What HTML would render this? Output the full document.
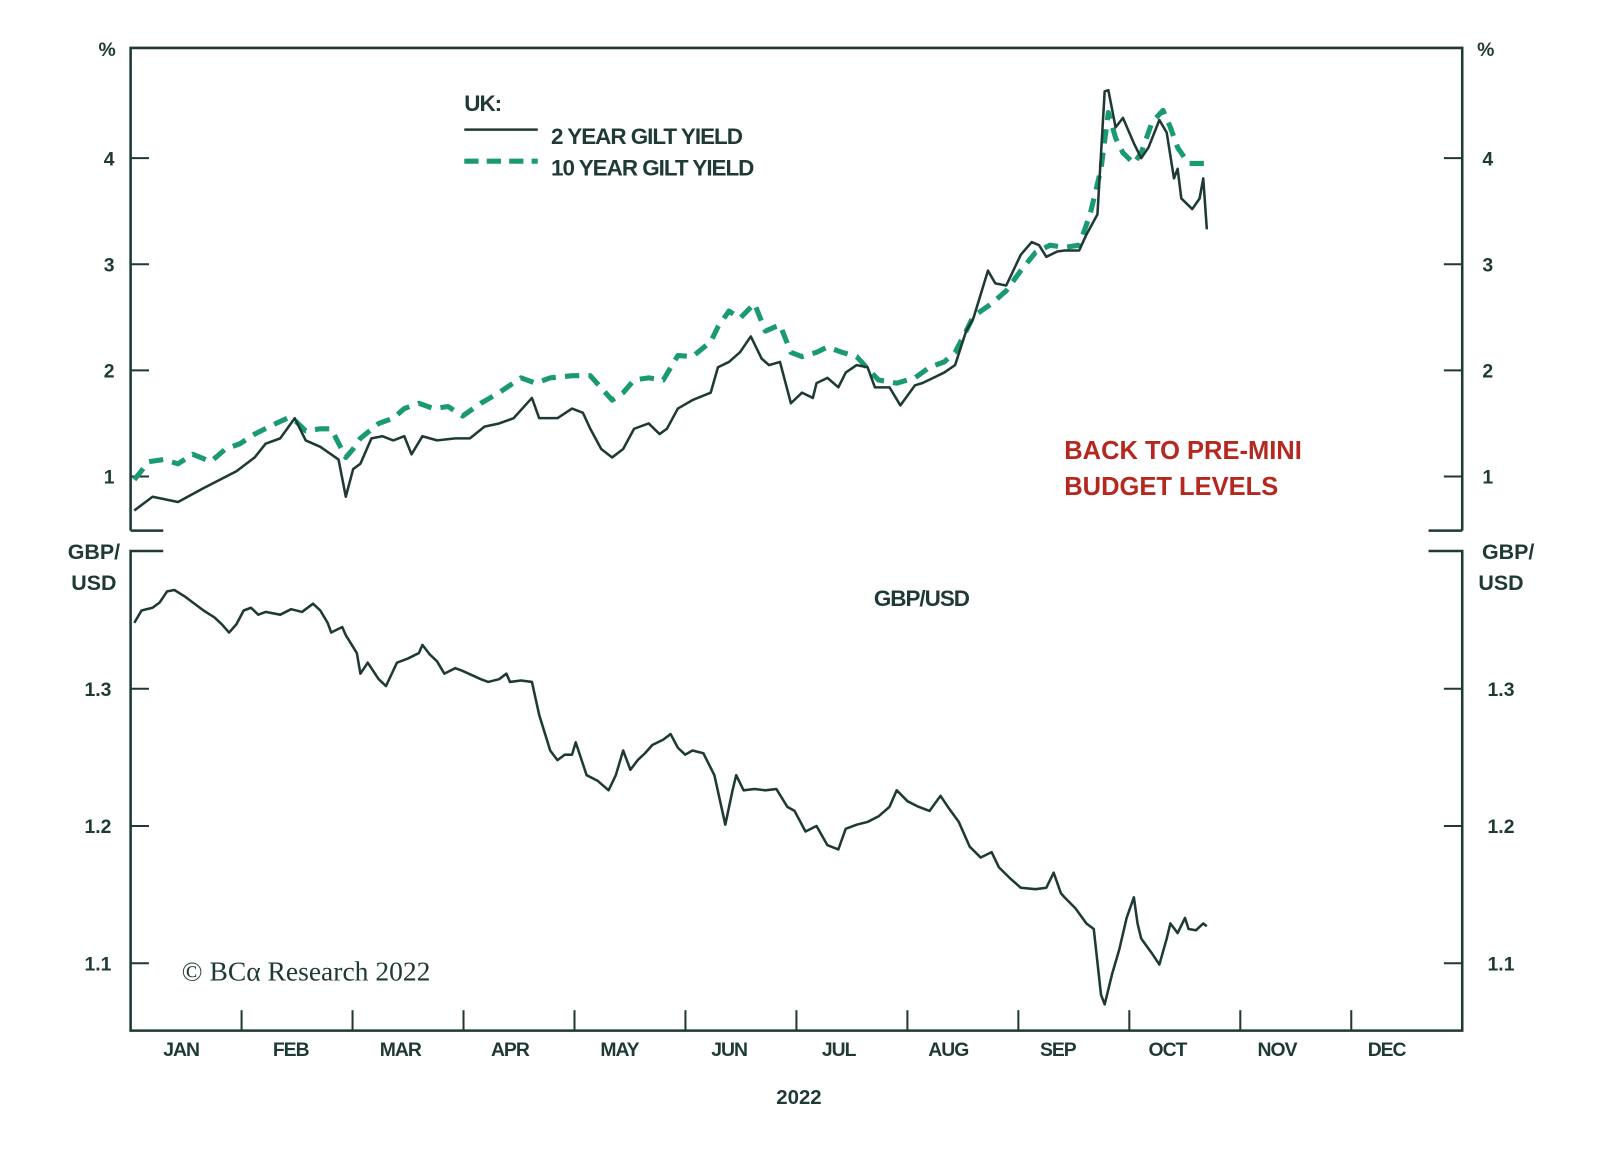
<!DOCTYPE html>
<html><head><meta charset="utf-8"><style>
body{margin:0;background:#fff}
svg text{font-family:"Liberation Sans",sans-serif;fill:#1f3a36}
</style></head><body>
<svg width="1600" height="1146" viewBox="0 0 1600 1146" id="c">
<g transform="scale(1.0204)">
<g id="frame" stroke="#1f3a36" stroke-width="2.5" fill="none">
<path d="M128,520 V47 H1433 V520"/>
<path d="M128,520 H160 M1400,520 H1433"/>
<path d="M160,540 H128 V1010 H1433 V540 H1400"/>
</g>
<g id="ticks" stroke="#1f3a36" stroke-width="2"></g>
<g id="labels"></g>
<g id="series"></g>
<text x="105" y="55" font-size="19" text-anchor="middle" font-weight="bold">%</text>
<text x="1456" y="55" font-size="19" text-anchor="middle" font-weight="bold">%</text>
<text x="92" y="548" font-size="21" text-anchor="middle" font-weight="bold">GBP/</text>
<text x="92" y="578" font-size="21" text-anchor="middle" font-weight="bold">USD</text>
<text x="1478" y="548" font-size="21" text-anchor="middle" font-weight="bold">GBP/</text>
<text x="1471" y="578" font-size="21" text-anchor="middle" font-weight="bold">USD</text>
<g>
<text x="455" y="109" font-size="22" font-weight="bold" letter-spacing="-1">UK:</text>
<line x1="455" y1="127" x2="527" y2="127" stroke="#1f3a36" stroke-width="2.5"/>
<text x="540" y="141" font-size="22" font-weight="bold" letter-spacing="-1">2 YEAR GILT YIELD</text>
<line x1="455" y1="158" x2="527" y2="158" stroke="#1a9a72" stroke-width="5" stroke-dasharray="14,8"/>
<text x="540" y="172" font-size="22" font-weight="bold" letter-spacing="-1">10 YEAR GILT YIELD</text>
</g>
<text x="1043" y="450" font-size="25" font-weight="bold" style="fill:#b52820">BACK TO PRE-MINI</text>
<text x="1043" y="485" font-size="25" font-weight="bold" style="fill:#b52820">BUDGET LEVELS</text>
<text x="903" y="594" font-size="22" font-weight="bold" text-anchor="middle" letter-spacing="-1">GBP/USD</text>
<text x="178" y="961" font-size="27" style="font-family:'Liberation Serif',serif">© BCα Research 2022</text>
<text x="783" y="1082" font-size="20" font-weight="bold" text-anchor="middle">2022</text>
</g>
</svg>
<script>
const months=["JAN","FEB","MAR","APR","MAY","JUN","JUL","AUG","SEP","OCT","NOV","DEC"];
const topTicks=[1,2,3,4];
const botTicks=[1.1,1.2,1.3];
const botTickLabels=["1.1","1.2","1.3"];
const y2Days=[1,6,13,20,29,34,37,41,45,48,52,57,59,61,63,66,69,72,75,77,80,84,89,93,97,101,105,110,112,117,121,124,126,129,132,135,138,142,145,147,150,154,159,161,164,167,170,173,175,178,181,184,187,188,191,194,196,199,202,204,208,211,215,217,220,223,226,229,231,235,237,240,244,247,249,251,254,256,260,262,265,267,268,270,272,275,277,279,282,284,286,287,288,291,293,294,295];
const y2Vals=[0.68,0.81,0.76,0.89,1.05,1.18,1.31,1.36,1.55,1.34,1.28,1.16,0.81,1.07,1.12,1.36,1.38,1.34,1.38,1.21,1.38,1.34,1.36,1.36,1.47,1.50,1.55,1.74,1.55,1.55,1.64,1.60,1.45,1.26,1.18,1.26,1.45,1.50,1.40,1.45,1.64,1.72,1.79,2.03,2.08,2.17,2.32,2.11,2.05,2.08,1.69,1.79,1.74,1.88,1.93,1.84,1.98,2.05,2.03,1.84,1.84,1.67,1.86,1.88,1.93,1.98,2.05,2.37,2.49,2.94,2.82,2.80,3.09,3.21,3.18,3.07,3.12,3.13,3.13,3.28,3.47,4.63,4.64,4.29,4.38,4.14,4.00,4.10,4.36,4.24,3.81,3.90,3.62,3.52,3.62,3.81,3.33];
const y10Days=[1,5,9,13,17,22,26,30,34,38,43,45,48,52,55,59,61,63,68,72,75,79,83,87,91,96,101,107,111,115,121,126,132,135,138,142,146,150,154,159,161,164,167,171,174,178,181,184,188,191,195,199,205,210,215,219,223,226,229,231,236,240,244,248,252,256,260,263,266,268,270,272,275,277,280,283,285,287,290,293,295];
const y10Vals=[0.97,1.14,1.16,1.12,1.21,1.14,1.26,1.31,1.40,1.47,1.55,1.53,1.43,1.45,1.45,1.18,1.26,1.36,1.50,1.55,1.64,1.69,1.64,1.66,1.57,1.69,1.79,1.93,1.88,1.93,1.95,1.95,1.72,1.79,1.91,1.93,1.91,2.14,2.13,2.27,2.41,2.56,2.49,2.63,2.37,2.43,2.17,2.13,2.17,2.22,2.17,2.13,1.91,1.88,1.93,2.03,2.08,2.17,2.37,2.51,2.63,2.75,2.94,3.11,3.18,3.16,3.18,3.47,3.90,4.43,4.19,4.05,3.95,4.05,4.34,4.45,4.29,4.10,3.95,3.95,3.95];
const fxDays=[1,3,6,8,10,12,15,17,20,23,25,27,29,31,33,35,37,41,44,47,50,52,54,55,58,59,62,63,65,68,70,73,76,79,80,82,84,86,89,91,96,98,101,103,104,107,110,112,115,117,119,121,122,125,128,131,133,135,137,139,141,143,146,148,150,152,154,157,160,163,165,166,168,171,174,177,180,182,185,188,191,194,196,199,202,205,208,210,213,216,219,222,224,227,230,233,236,238,241,244,248,251,253,255,256,259,262,264,266,267,269,271,273,275,276,277,280,282,284,285,287,289,290,292,294,295];
const fxVals=[1.348,1.357,1.359,1.363,1.371,1.372,1.367,1.363,1.357,1.352,1.347,1.341,1.347,1.357,1.359,1.354,1.356,1.354,1.358,1.356,1.362,1.357,1.348,1.341,1.345,1.339,1.326,1.311,1.319,1.307,1.302,1.319,1.322,1.326,1.332,1.325,1.320,1.311,1.315,1.313,1.307,1.305,1.307,1.311,1.305,1.306,1.305,1.281,1.255,1.248,1.252,1.252,1.261,1.237,1.233,1.226,1.237,1.255,1.241,1.248,1.253,1.259,1.263,1.267,1.257,1.252,1.255,1.253,1.237,1.201,1.226,1.237,1.226,1.227,1.226,1.227,1.214,1.211,1.196,1.200,1.186,1.183,1.198,1.201,1.203,1.207,1.214,1.226,1.218,1.214,1.211,1.222,1.214,1.203,1.185,1.177,1.181,1.170,1.162,1.155,1.154,1.155,1.166,1.151,1.148,1.140,1.129,1.125,1.077,1.070,1.092,1.110,1.133,1.148,1.129,1.118,1.107,1.099,1.118,1.129,1.122,1.133,1.125,1.124,1.129,1.127];

const X0=128,X1=1433;
const xs=d=>X0+d*(X1-X0)/365;
const yTop=v=>467-(v-1)*104;
const yBot=v=>675-(v-1.3)*1345;
const NS="http://www.w3.org/2000/svg";
const ticks=document.getElementById('ticks'),labels=document.getElementById('labels'),series=document.getElementById('series');
function mk(tag,attrs,parent){const e=document.createElementNS(NS,tag);for(const k in attrs)e.setAttribute(k,attrs[k]);parent.appendChild(e);return e;}
topTicks.forEach(v=>{
  const y=yTop(v);
  const t=mk('path',{d:`M128,${y}H146M1415,${y}H1433`},ticks);
  
  
  const a=mk('text',{x:107,y:y+7,'font-size':19,'font-weight':'bold','text-anchor':'middle'},labels);a.textContent=v;
  
  
  const b=mk('text',{x:1458,y:y+7,'font-size':19,'font-weight':'bold','text-anchor':'middle'},labels);b.textContent=v;
  
  
});
botTicks.forEach((v,i)=>{
  const y=yBot(v);
  const t=mk('path',{d:`M128,${y}H146M1415,${y}H1433`},ticks);
  
  
  const a=mk('text',{x:96,y:y+7,'font-size':19,'font-weight':'bold','text-anchor':'middle'},labels);a.textContent=botTickLabels[i];
  
  
  const b=mk('text',{x:1471,y:y+7,'font-size':19,'font-weight':'bold','text-anchor':'middle'},labels);b.textContent=botTickLabels[i];
  
  
});
months.forEach((m,i)=>{
  const x=X0+i*(X1-X0)/12;
  if(i>0){const t=mk('path',{d:`M${x},1010V990`},ticks);
  
  }
  const l=mk('text',{x:177.5+i*107.4,y:1035,'font-size':19,'font-weight':'bold','text-anchor':'middle','letter-spacing':'-1'},labels);l.textContent=m;
  
  
});
function line(days,vals,yf,attrs,name){
  const d=days.map((dd,i)=>(i?'L':'M')+xs(dd).toFixed(1)+','+yf(vals[i]).toFixed(1)).join('');
  const p=mk('path',Object.assign({d:d,fill:'none','stroke-linejoin':'round'},attrs),series);
  
  
}
line(y10Days,y10Vals,yTop,{stroke:'#1a9a72','stroke-width':5,'stroke-dasharray':'14,9'},'line-10y-gilt');
line(y2Days,y2Vals,yTop,{stroke:'#1f3a36','stroke-width':2.5},'line-2y-gilt');
line(fxDays,fxVals,yBot,{stroke:'#1f3a36','stroke-width':2.5},'line-gbpusd');
</script>
</body></html>
